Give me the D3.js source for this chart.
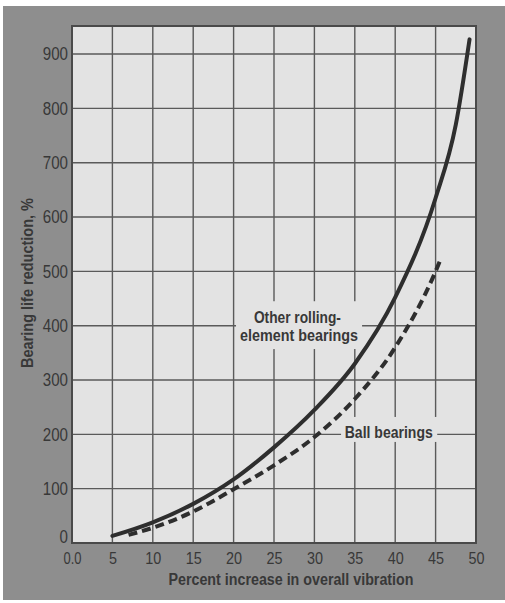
<!DOCTYPE html>
<html>
<head>
<meta charset="utf-8">
<script src="https://cdn.jsdelivr.net/npm/d3@7"></script>
<style>
  html, body { margin: 0; padding: 0; background: #ffffff; }
  svg { display: block; }
  text { font-family: "Liberation Sans", Arial, sans-serif; }
</style>
</head>
<body>
<svg id="chart" width="505" height="603"></svg>
<script>
// ---- Data ----
const xTicks = [0, 5, 10, 15, 20, 25, 30, 35, 40, 45, 50];
const xTickLabels = ["0.0", "5", "10", "15", "20", "25", "30", "35", "40", "45", "50"];
const yTicks = [0, 100, 200, 300, 400, 500, 600, 700, 800, 900];

// Other rolling-element bearings (solid)
const otherX = [5, 10, 15, 20, 25, 30, 35, 40, 45, 47.5, 49.2];
const otherY = [13, 38, 72, 117, 176, 245, 330, 452, 635, 770, 927];

// Ball bearings (dashed)
const ballX = [7, 10, 15, 20, 25, 30, 35, 40, 45, 45.7];
const ballY = [15, 28, 58, 99, 143, 195, 265, 360, 500, 525];

const xTitle = "Percent increase in overall vibration";
const yTitle = "Bearing life reduction, %";
const otherLabel = ["Other rolling-", "element bearings"];
const ballLabel = "Ball bearings";

// ---- Layout ----
const plot = { left: 72, right: 476, top: 26, bottom: 543 };
const svg = d3.select("#chart");

const x = d3.scaleLinear().domain([0, 50]).range([plot.left, plot.right]);
const y = d3.scaleLinear().domain([0, 951.6]).range([plot.bottom, plot.top]);

const ink = "#383838";
const gridCol = "#5a5a5a";
const paper = "#e3e3e3";

// outer gray panel
svg.append("rect").attr("x", 3).attr("y", 6).attr("width", 502).attr("height", 594).attr("fill", "#8e8e8e");

// plot background
svg.append("rect")
  .attr("x", plot.left).attr("y", plot.top)
  .attr("width", plot.right - plot.left).attr("height", plot.bottom - plot.top)
  .attr("fill", paper);

// grid
const grid = svg.append("g");
grid.selectAll("line.v").data(xTicks).join("line")
  .attr("x1", d => x(d)).attr("x2", d => x(d))
  .attr("y1", plot.top).attr("y2", plot.bottom)
  .attr("stroke", gridCol).attr("stroke-width", 1.4);
grid.selectAll("line.h").data(yTicks).join("line")
  .attr("x1", plot.left).attr("x2", plot.right)
  .attr("y1", d => y(d)).attr("y2", d => y(d))
  .attr("stroke", gridCol).attr("stroke-width", 1.4);

// border
svg.append("rect")
  .attr("x", plot.left).attr("y", plot.top)
  .attr("width", plot.right - plot.left).attr("height", plot.bottom - plot.top)
  .attr("fill", "none").attr("stroke", "#4a4a4a").attr("stroke-width", 2);

// axes (labels only, via d3 axis generators)
const xAxis = d3.axisBottom(x).tickValues(xTicks)
  .tickFormat((d, i) => xTickLabels[i]).tickSize(0).tickPadding(9);
const gx = svg.append("g").attr("transform", `translate(0,${plot.bottom})`).call(xAxis);
gx.select(".domain").remove();
gx.selectAll("text")
  .attr("font-size", 17).attr("fill", ink).attr("font-family", null)
  .attr("textLength", (d, i) => xTickLabels[i] === "0.0" ? 18 : xTickLabels[i].length * 8)
  .attr("lengthAdjust", "spacingAndGlyphs");

const yAxis = d3.axisLeft(y).tickValues(yTicks).tickSize(0).tickPadding(4);
const gy = svg.append("g").attr("transform", `translate(${plot.left},0)`).call(yAxis);
gy.select(".domain").remove();
gy.selectAll("text")
  .attr("font-size", 18).attr("fill", ink).attr("font-family", null)
  .attr("textLength", d => String(d).length * 8.4)
  .attr("lengthAdjust", "spacingAndGlyphs")
  .attr("dy", d => d === 0 ? "-0.05em" : "0.32em");

// titles
svg.append("text")
  .attr("x", 291).attr("y", 585)
  .attr("text-anchor", "middle").attr("font-size", 16).attr("font-weight", "bold")
  .attr("textLength", 245).attr("lengthAdjust", "spacingAndGlyphs")
  .attr("fill", ink).text(xTitle);

svg.append("text")
  .attr("transform", `translate(33,283) rotate(-90)`)
  .attr("text-anchor", "middle").attr("font-size", 16).attr("font-weight", "bold")
  .attr("textLength", 170).attr("lengthAdjust", "spacingAndGlyphs")
  .attr("fill", ink).text(yTitle);

// label boxes (cover grid)
svg.append("rect")
  .attr("x", x(20.3)).attr("y", y(445)).attr("width", x(35.9) - x(20.3)).attr("height", y(357) - y(445))
  .attr("fill", paper);
svg.append("rect")
  .attr("x", x(33.3)).attr("y", y(232)).attr("width", x(45.2) - x(33.3)).attr("height", y(186) - y(232))
  .attr("fill", paper);

// curves
const line = d3.line().x(d => x(d[0])).y(d => y(d[1])).curve(d3.curveMonotoneX);
const otherData = otherX.map((v, i) => [v, otherY[i]]);
const ballData = ballX.map((v, i) => [v, ballY[i]]);

svg.append("path").datum(otherData).attr("d", line)
  .attr("fill", "none").attr("stroke", "#2e2e2e").attr("stroke-width", 4).attr("stroke-linecap", "round");
svg.append("path").datum(ballData).attr("d", line)
  .attr("fill", "none").attr("stroke", "#2e2e2e").attr("stroke-width", 4)
  .attr("stroke-dasharray", "9,5");

// labels
const lab = svg.append("text").attr("text-anchor", "middle").attr("font-size", 17)
  .attr("font-weight", "bold").attr("fill", ink);
lab.append("tspan").attr("x", x(27.9)).attr("y", y(405)).attr("textLength", 87)
  .attr("lengthAdjust", "spacingAndGlyphs").text(otherLabel[0]);
lab.append("tspan").attr("x", x(28.1)).attr("y", y(372)).attr("textLength", 118)
  .attr("lengthAdjust", "spacingAndGlyphs").text(otherLabel[1]);

svg.append("text").attr("x", x(39.2)).attr("y", y(193)).attr("text-anchor", "middle")
  .attr("font-size", 17).attr("font-weight", "bold").attr("fill", ink)
  .attr("textLength", 88).attr("lengthAdjust", "spacingAndGlyphs").text(ballLabel);
</script>
</body>
</html>
